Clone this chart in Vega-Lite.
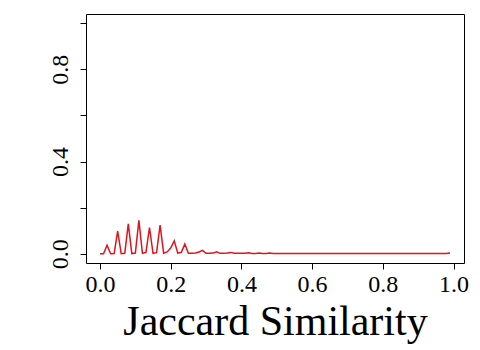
{
  "$schema": "https://vega.github.io/schema/vega-lite/v6.json",
  "width": 378,
  "height": 249,
  "autosize": {"type": "none"},
  "padding": {"left": 86, "top": 14, "right": 16, "bottom": 87},
  "background": "white",
  "config": {
    "view": {"stroke": "black", "strokeWidth": 1},
    "font": "Liberation Serif"
  },
  "data": {
    "values": [
      {"x": 0.00, "y": 0.000}, {"x": 0.01, "y": 0.000}, {"x": 0.02, "y": 0.037}, {"x": 0.03, "y": 0.000},
      {"x": 0.04, "y": 0.001}, {"x": 0.05, "y": 0.098}, {"x": 0.06, "y": 0.000}, {"x": 0.07, "y": 0.002},
      {"x": 0.08, "y": 0.130}, {"x": 0.09, "y": 0.001}, {"x": 0.10, "y": 0.003}, {"x": 0.11, "y": 0.145},
      {"x": 0.12, "y": 0.002}, {"x": 0.13, "y": 0.006}, {"x": 0.14, "y": 0.114}, {"x": 0.15, "y": 0.002},
      {"x": 0.16, "y": 0.005}, {"x": 0.17, "y": 0.124}, {"x": 0.18, "y": 0.002}, {"x": 0.19, "y": 0.008},
      {"x": 0.20, "y": 0.025}, {"x": 0.21, "y": 0.056}, {"x": 0.22, "y": 0.003}, {"x": 0.23, "y": 0.006},
      {"x": 0.24, "y": 0.042}, {"x": 0.25, "y": 0.002}, {"x": 0.26, "y": 0.002}, {"x": 0.27, "y": 0.003},
      {"x": 0.28, "y": 0.008}, {"x": 0.29, "y": 0.015}, {"x": 0.30, "y": 0.002}, {"x": 0.31, "y": 0.002},
      {"x": 0.32, "y": 0.003}, {"x": 0.33, "y": 0.009}, {"x": 0.34, "y": 0.002}, {"x": 0.35, "y": 0.002},
      {"x": 0.36, "y": 0.003}, {"x": 0.37, "y": 0.006}, {"x": 0.38, "y": 0.002}, {"x": 0.39, "y": 0.002},
      {"x": 0.40, "y": 0.002}, {"x": 0.41, "y": 0.002}, {"x": 0.42, "y": 0.004}, {"x": 0.43, "y": 0.001},
      {"x": 0.44, "y": 0.001}, {"x": 0.45, "y": 0.003}, {"x": 0.46, "y": 0.001}, {"x": 0.47, "y": 0.001},
      {"x": 0.48, "y": 0.003}, {"x": 0.49, "y": 0.001}, {"x": 0.50, "y": 0.001}, {"x": 0.51, "y": 0.001},
      {"x": 0.52, "y": 0.001}, {"x": 0.53, "y": 0.001}, {"x": 0.54, "y": 0.001}, {"x": 0.55, "y": 0.001},
      {"x": 0.56, "y": 0.001}, {"x": 0.57, "y": 0.001}, {"x": 0.58, "y": 0.001}, {"x": 0.59, "y": 0.001},
      {"x": 0.60, "y": 0.001}, {"x": 0.61, "y": 0.001}, {"x": 0.62, "y": 0.001}, {"x": 0.63, "y": 0.001},
      {"x": 0.64, "y": 0.001}, {"x": 0.65, "y": 0.001}, {"x": 0.66, "y": 0.001}, {"x": 0.67, "y": 0.001},
      {"x": 0.68, "y": 0.001}, {"x": 0.69, "y": 0.001}, {"x": 0.70, "y": 0.001}, {"x": 0.71, "y": 0.001},
      {"x": 0.72, "y": 0.001}, {"x": 0.73, "y": 0.001}, {"x": 0.74, "y": 0.001}, {"x": 0.75, "y": 0.001},
      {"x": 0.76, "y": 0.001}, {"x": 0.77, "y": 0.001}, {"x": 0.78, "y": 0.001}, {"x": 0.79, "y": 0.001},
      {"x": 0.80, "y": 0.001}, {"x": 0.81, "y": 0.001}, {"x": 0.82, "y": 0.001}, {"x": 0.83, "y": 0.001},
      {"x": 0.84, "y": 0.001}, {"x": 0.85, "y": 0.001}, {"x": 0.86, "y": 0.001}, {"x": 0.87, "y": 0.001},
      {"x": 0.88, "y": 0.001}, {"x": 0.89, "y": 0.001}, {"x": 0.90, "y": 0.001}, {"x": 0.91, "y": 0.001},
      {"x": 0.92, "y": 0.001}, {"x": 0.93, "y": 0.001}, {"x": 0.94, "y": 0.001}, {"x": 0.95, "y": 0.001},
      {"x": 0.96, "y": 0.001}, {"x": 0.97, "y": 0.001}, {"x": 0.98, "y": 0.001}, {"x": 0.99, "y": 0.003}
    ]
  },
  "mark": {"type": "line", "color": "#e0141c", "strokeWidth": 1.5, "clip": true},
  "encoding": {
    "x": {
      "field": "x",
      "type": "quantitative",
      "scale": {"domain": [-0.0396, 1.0296], "nice": false, "zero": false},
      "axis": {
        "values": [0, 0.2, 0.4, 0.6, 0.8, 1.0],
        "format": ".1f",
        "domain": false,
        "grid": false,
        "tickColor": "black",
        "tickSize": 6,
        "labelFontSize": 24,
        "labelColor": "black",
        "labelPadding": 3,
        "labelFont": "Liberation Serif",
        "title": "Jaccard Similarity",
        "titleFont": "Liberation Serif",
        "titleFontSize": 42,
        "titleFontWeight": "normal",
        "titleColor": "black",
        "titlePadding": 5
      }
    },
    "y": {
      "field": "y",
      "type": "quantitative",
      "scale": {"domain": [-0.04, 1.04], "nice": false, "zero": false},
      "axis": {
        "values": [0, 0.2, 0.4, 0.6, 0.8, 1.0],
        "labelExpr": "indexof([0, 0.4, 0.8], datum.value) >= 0 ? format(datum.value, '.1f') : ''",
        "domain": false,
        "grid": false,
        "tickColor": "black",
        "tickSize": 6,
        "labelFontSize": 24,
        "labelColor": "black",
        "labelAngle": -90,
        "labelAlign": "center",
        "labelBaseline": "bottom",
        "labelPadding": 8,
        "labelFont": "Liberation Serif",
        "title": null
      }
    }
  }
}
